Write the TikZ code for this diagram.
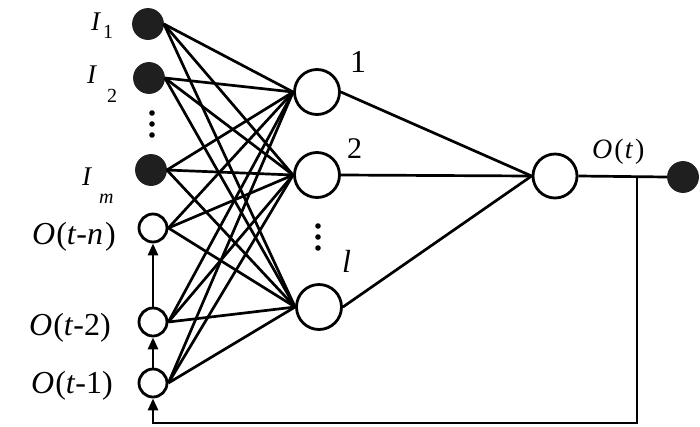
\documentclass[tikz,border=0pt]{standalone}
\usepackage{fontspec}
\setmainfont{Liberation Serif}
\usetikzlibrary{arrows.meta}
\begin{document}
\begin{tikzpicture}[x=1pt,y=-1pt,
  lw/.style={line width=2.7pt},
  inp/.style={circle,fill=black!88,draw=black!88,line width=0.8pt,minimum size=31pt,inner sep=0pt},
  mem/.style={circle,draw,line width=2.8pt,minimum size=28pt,inner sep=0pt},
  hid/.style={circle,draw,line width=2.8pt,minimum size=45pt,inner sep=0pt},
  lab/.style={font=\fontsize{32}{36}\selectfont,inner sep=0pt},
  ilab/.style={font=\fontsize{27}{30}\selectfont,inner sep=0pt,anchor=base west},
  sub/.style={font=\fontsize{20}{22}\selectfont,inner sep=0pt,anchor=base west},
  arr/.style={lw,-{Triangle[length=12pt,width=10pt]}},
  dot/.style={fill=black}]
\useasboundingbox (0,0) rectangle (700,426);
% input nodes
\node[inp] (i1) at (148,24) {};
\node[inp] (i2) at (149,78) {};
\node[inp] (im) at (151,170) {};
\node[mem] (on) at (153,228) {};
\node[mem] (o2) at (153,322) {};
\node[mem] (o1) at (153,383) {};
% hidden nodes
\node[hid] (h1) at (317,92) {};
\node[hid] (h2) at (317,175) {};
\node[hid] (hl) at (319,307) {};
% output
\node[hid,minimum size=44pt] (out) at (555,176) {};
\node[inp] (y) at (683,177) {};
\coordinate (J) at (637,176);
\coordinate (B) at (637,423);
% labels
\node[ilab] (li1) at (91,30) {\textit{I}};
\node[sub] (si1) at (103,38) {1};
\node[ilab] (li2) at (87,83) {\textit{I}};
\node[sub] (si2) at (107,102) {2};
\node[ilab] (lim) at (82,185) {\textit{I}};
\node[sub] (sim) at (99,203) {\textit{m}};
\node[lab,anchor=base east] (lon) at (116,244) {\textit{O}\kern1pt(\textit{t}-\textit{n}\kern2pt)};
\node[lab,anchor=base east] (lo2) at (111,335) {\textit{O}\kern1pt(\textit{t}-2)};
\node[lab,anchor=base east] (lo1) at (113,393) {\textit{O}\kern1pt(\textit{t}-1)};
\node[lab,anchor=base west] (l1) at (350,72) {1};
\node[lab,font=\fontsize{30}{34}\selectfont,anchor=base west] (l2) at (347,158) {2};
\node[lab,anchor=base west] (ll) at (342,272) {\textit{l}};
\node[lab,font=\fontsize{28}{32}\selectfont,anchor=base west] (lot) at (592,158) {\textit{O}\kern2pt(\kern1pt\textit{t}\kern2pt)};
% vertical dots
\fill[dot] (152,113) circle (2.8pt);
\fill[dot] (152,124) circle (2.8pt);
\fill[dot] (152,135) circle (2.8pt);
\fill[dot] (318,226) circle (2.8pt);
\fill[dot] (318,237) circle (2.8pt);
\fill[dot] (318,248) circle (2.8pt);
% connections input -> hidden
\foreach \s in {i1,i2,im,on,o2,o1}{
  \foreach \h in {h1,h2,hl}{
    \draw[lw] (\s.east) -- (\h.west);
  }
}
% hidden -> output
\foreach \h in {h1,h2,hl}{
  \draw[lw] (\h.east) -- (out.west);
}
\draw[lw] (out.east) -- (y.west);
% memory chain
\draw[arr] (o1) -- (o2);
\draw[arr] (o2) -- (on);
\draw[arr] (J) -- (B) -| (o1.south);
\end{tikzpicture}
\end{document}
